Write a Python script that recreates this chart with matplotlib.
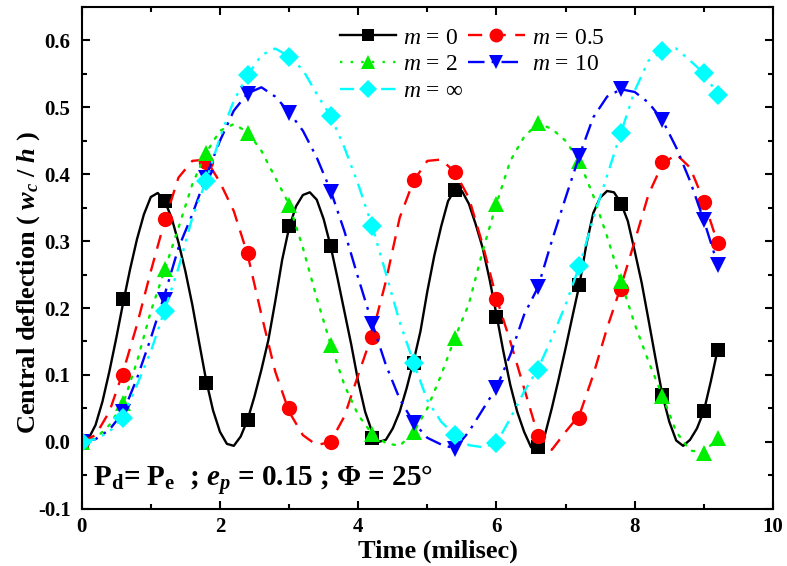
import numpy as np
import matplotlib
matplotlib.use("Agg")
import matplotlib.pyplot as plt
from matplotlib.lines import Line2D
from matplotlib.ticker import MultipleLocator

plt.rcParams['font.family'] = ['Liberation Serif', 'DejaVu Serif']
plt.rcParams['mathtext.fontset'] = 'custom'
plt.rcParams['mathtext.rm'] = 'Liberation Serif:bold'
plt.rcParams['mathtext.it'] = 'Liberation Serif:italic:bold'
plt.rcParams['mathtext.bf'] = 'Liberation Serif:bold'
plt.rcParams['mathtext.sf'] = 'Liberation Serif:italic'

# m = 0 curve, read every 0.1 ms (shortest period)
t_fine = np.linspace(0, 9.2, 93)
w_m0 = [0.0, 0.005, 0.025, 0.06, 0.105, 0.155, 0.208, 0.258, 0.303, 0.34,
        0.366, 0.372, 0.36, 0.335, 0.298, 0.255, 0.205, 0.148, 0.092, 0.047,
        0.015, -0.003, -0.006, 0.008, 0.033, 0.068, 0.108, 0.152, 0.21, 0.272,
        0.32, 0.352, 0.369, 0.373, 0.362, 0.333, 0.293, 0.245, 0.195, 0.145,
        0.09, 0.045, 0.015, 0.0, 0.003, 0.02, 0.045, 0.08, 0.12, 0.165,
        0.225, 0.278, 0.322, 0.36, 0.377, 0.375, 0.356, 0.325, 0.29, 0.243,
        0.19, 0.135, 0.085, 0.045, 0.015, -0.008, -0.01, 0.01, 0.05, 0.094,
        0.14, 0.188, 0.235, 0.295, 0.342, 0.365, 0.375, 0.373, 0.357, 0.33,
        0.285, 0.238, 0.182, 0.125, 0.07, 0.03, 0.002, -0.006, 0.003, 0.02,
        0.046, 0.09, 0.138]

# other curves, read every 0.2 ms
t_line = np.linspace(0, 9.2, 47)
w_m05 = [0.0, 0.01, 0.045, 0.105, 0.175, 0.255, 0.33, 0.395, 0.42, 0.422,
         0.388, 0.345, 0.28, 0.19, 0.105, 0.045, 0.01, -0.005, 0.0, 0.038,
         0.10, 0.16, 0.24, 0.335, 0.39, 0.42, 0.422, 0.403, 0.365, 0.295,
         0.215, 0.15, 0.08, 0.01, -0.012, 0.015, 0.04, 0.10, 0.17, 0.232,
         0.30, 0.37, 0.415, 0.43, 0.41, 0.36, 0.297]
w_m2 = [0.0, 0.005, 0.025, 0.057, 0.12, 0.195, 0.257, 0.32, 0.385, 0.432,
        0.465, 0.475, 0.463, 0.435, 0.395, 0.355, 0.29, 0.215, 0.146, 0.085,
        0.04, 0.012, -0.002, -0.006, 0.014, 0.05, 0.10, 0.156, 0.206, 0.285,
        0.356, 0.42, 0.456, 0.476, 0.468, 0.45, 0.419, 0.368, 0.307, 0.24,
        0.176, 0.12, 0.069, 0.015, -0.013, -0.016, 0.006]
w_m10 = [0.0, 0.004, 0.018, 0.044, 0.095, 0.155, 0.22, 0.29, 0.34, 0.397,
         0.45, 0.495, 0.521, 0.53, 0.516, 0.493, 0.465, 0.425, 0.376, 0.315,
         0.245, 0.178, 0.115, 0.064, 0.029, 0.006, -0.004, -0.01, 0.015, 0.048,
         0.081, 0.13, 0.19, 0.231, 0.30, 0.365, 0.428, 0.485, 0.516, 0.527,
         0.523, 0.507, 0.481, 0.44, 0.39, 0.331, 0.265]
w_minf = [0.0, 0.004, 0.015, 0.037, 0.085, 0.135, 0.197, 0.26, 0.335, 0.39,
          0.455, 0.51, 0.548, 0.578, 0.588, 0.576, 0.556, 0.52, 0.487, 0.44,
          0.385, 0.323, 0.252, 0.179, 0.119, 0.062, 0.03, 0.01, -0.005, -0.008,
          -0.002, 0.035, 0.075, 0.109, 0.155, 0.205, 0.263, 0.334, 0.398, 0.462,
          0.525, 0.57, 0.584, 0.588, 0.57, 0.551, 0.519]

# marker data
t_mark = [0, 0.6, 1.2, 1.8, 2.4, 3.0, 3.6, 4.2, 4.8, 5.4, 6.0, 6.6, 7.2, 7.8, 8.4, 9.0, 9.2]
p_m0 = [0.0, 0.213, 0.36, 0.088, 0.032, 0.323, 0.292, 0.006, 0.118, 0.377,
        0.187, -0.008, 0.234, 0.356, 0.07, 0.046, 0.138]
p_m05 = [0.0, 0.100, 0.333, 0.419, 0.283, 0.051, 0.0, 0.156, 0.391, 0.403,
         0.213, 0.009, 0.036, 0.228, 0.418, 0.358, 0.297]
p_m2 = [0.0, 0.058, 0.258, 0.432, 0.462, 0.354, 0.145, 0.012, 0.014, 0.155,
        0.356, 0.476, 0.42, 0.24, 0.068, -0.016, 0.006]
p_m10 = [0.0, 0.044, 0.212, 0.395, 0.52, 0.492, 0.374, 0.176, 0.028, -0.01,
         0.081, 0.231, 0.428, 0.527, 0.481, 0.331, 0.265]
p_minf = [0.0, 0.036, 0.195, 0.39, 0.548, 0.575, 0.487, 0.323, 0.118, 0.01,
          -0.002, 0.108, 0.263, 0.462, 0.584, 0.551, 0.519]

labels = [r'$\mathsf{m}$ = 0', r'$\mathsf{m}$ = 0.5', r'$\mathsf{m}$ = 2',
          r'$\mathsf{m}$ = 10', r'$\mathsf{m}$ = ∞']

series = [
    (t_fine, w_m0, p_m0, 'black', '-', 's', 10),
    (t_line, w_m05, p_m05, '#ff0000', (0, (6, 4)), 'o', 11),
    (t_line, w_m2, p_m2, '#00ee00', (0, (1, 3.5)), '^', 11),
    (t_line, w_m10, p_m10, '#0000ff', (0, (7, 3, 1.2, 3)), 'v', 11),
    (t_line, w_minf, p_minf, '#00ffff', (0, (6, 3, 1.2, 3, 1.2, 3)), 'D', 10),
]

fig = plt.figure(figsize=(7.87, 5.66), dpi=100)
ax = fig.add_axes([0.1038, 0.1012, 0.8784, 0.8864])

handles = []
for (tl, wl, wp, col, ls, mk, ms), lab in zip(series, labels):
    ax.plot(tl, wl, color=col, linestyle=ls, linewidth=1.7,
            dash_capstyle='round' if mk == '^' else 'butt')
    ax.plot(t_mark, wp, linestyle='none', marker=mk, markersize=ms,
            color=col, markeredgewidth=0)
    handles.append(Line2D([], [], color=col, linestyle=ls, linewidth=1.7,
                          marker=mk, markersize=ms - 1, markeredgewidth=0,
                          label=lab))

ax.set_xlim(0, 10)
ax.set_ylim(-0.1, 0.65)
ax.xaxis.set_major_locator(MultipleLocator(2))
ax.xaxis.set_minor_locator(MultipleLocator(1))
ax.yaxis.set_major_locator(MultipleLocator(0.1))
ax.yaxis.set_minor_locator(MultipleLocator(0.05))
ax.yaxis.set_major_formatter(plt.FuncFormatter(lambda v, p: f'{v:.1f}'))
ax.tick_params(which='both', direction='in', top=True, right=True, width=1.5)
ax.tick_params(which='major', length=6, labelsize=15)
ax.tick_params(axis='x', which='major', pad=6)
ax.tick_params(axis='y', which='major', pad=8)
ax.tick_params(which='minor', length=3.5)
for lbl in ax.get_xticklabels() + ax.get_yticklabels():
    lbl.set_fontweight('bold')
for s in ax.spines.values():
    s.set_linewidth(1.5)

ax.set_xlabel('Time (milisec)', fontsize=19, fontweight='bold')
ax.set_ylabel(r'Central deflection ( $w_c$ / $h$ )', fontsize=19,
              fontweight='bold')
ax.xaxis.set_label_coords(0.515, -0.061)
ax.yaxis.set_label_coords(-0.057, 0.45)

ax.text(0.017, 0.057, r'$\mathrm{P_d}$= $\mathrm{P_e}$  ; $e_p$ = 0.15 ; Φ = 25°',
        transform=ax.transAxes, fontsize=21, fontweight='bold', va='center')

order = [0, 2, 4, 1, 3]
ax.legend([handles[i] for i in order], [labels[i] for i in order], ncol=2,
          loc='upper left', bbox_to_anchor=(0.373, 0.96), frameon=False,
          fontsize=17, handlelength=2.4, handletextpad=0.3, columnspacing=0.2,
          labelspacing=0.22, borderpad=0, borderaxespad=0, numpoints=1)

fig.savefig('out.png', dpi=100)
